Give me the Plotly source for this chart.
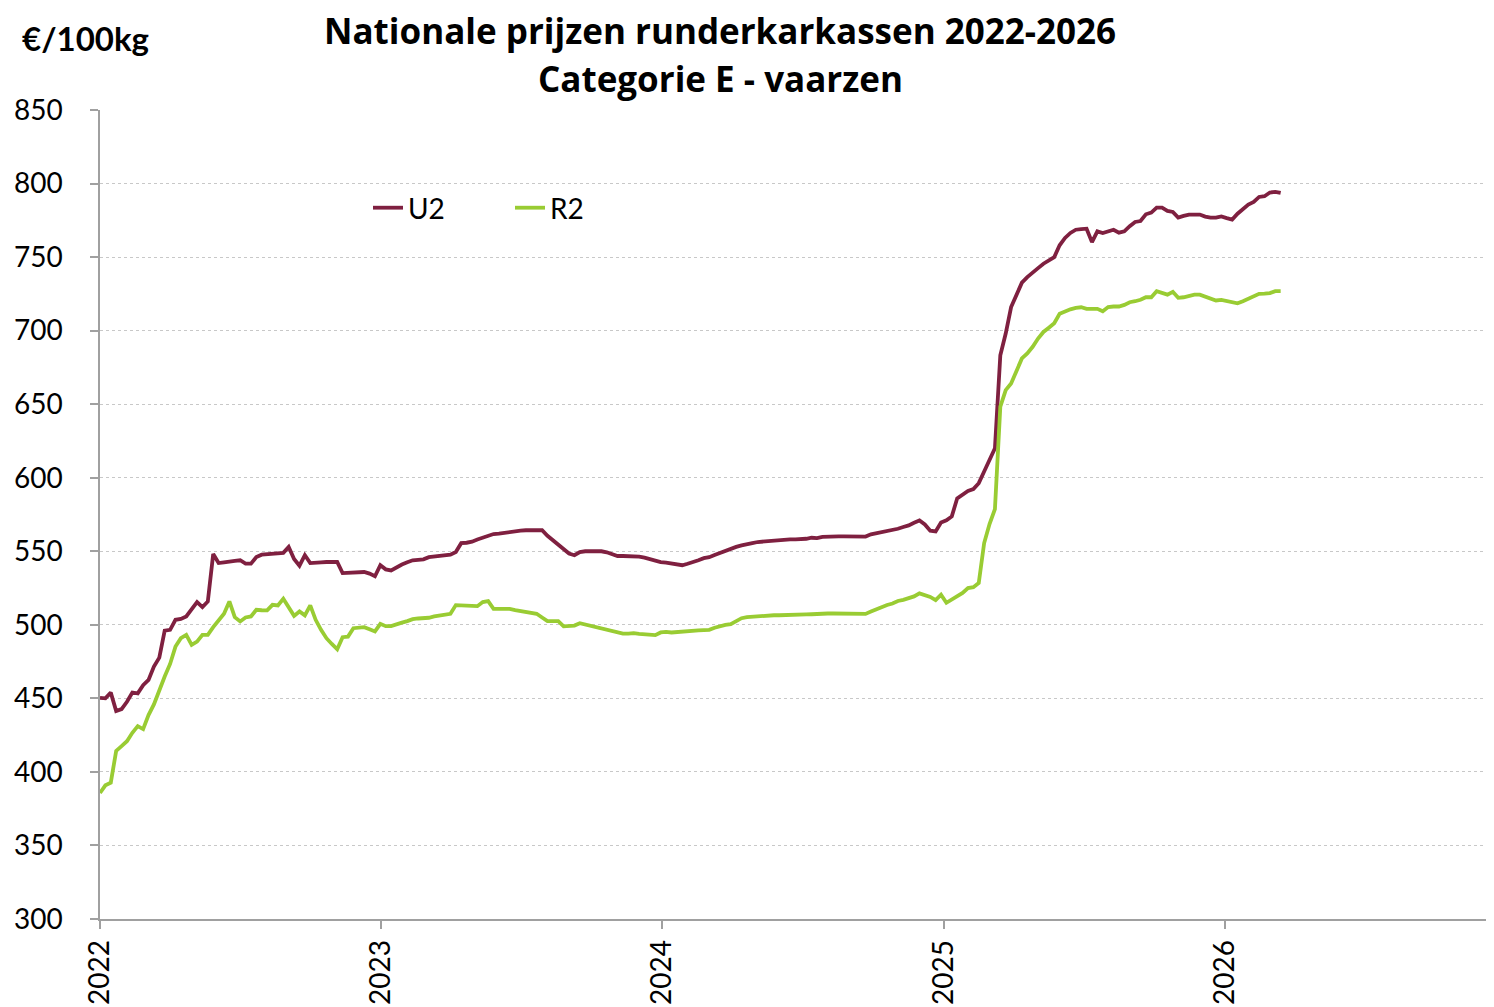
import plotly.graph_objects as go
import pandas as pd

start_date = "2022-01-01"
u2 = [
    450.4, 450, 453.9, 441.4, 442.7, 447.7, 454, 453.4, 459, 462.5,
    471.6, 477.7, 496, 496.6, 503.4, 504, 505.7, 510.2, 515.5, 512,
    515.9, 548.2, 542, 542.5, 542.7, 543.5, 543.9, 541.6, 541.6, 546.1,
    547.7, 548, 548.5, 548.9, 548.9, 553, 544.8, 540.2, 547.3, 542,
    542, 542.5, 542.7, 542.7, 542.7, 535.2, 535.5, 535.7, 535.8, 535.9,
    534.8, 533, 540.5, 537.7, 537, 539.3, 541, 542.5, 543.9, 544.2,
    544.5, 546, 546.4, 546.8, 547.2, 547.7, 549.5, 555.5, 555.8, 556.5,
    558, 559.2, 560.8, 561.7, 562, 562.5, 563.5, 563.9, 564, 564.3,
    564.2, 564.1, 564.3, 560.5, 557.5, 555, 552, 548.5, 547.3, 549.5,
    550, 550, 550, 550, 549.3, 548, 546.8, 546.8, 546.8, 546.7,
    546.3, 545.7, 544.5, 543.2, 542.6, 542.3, 541.8, 541.2, 540.5, 541.5,
    543, 543.9, 545.3, 546, 547.5, 548.9, 550.5, 552, 553, 554,
    554.5, 555.5, 556.3, 556.7, 557, 557.5, 557.9, 558, 558.1, 558.1,
    558.1, 558.5, 559.2, 559, 559.8, 560.1, 560.1, 560.1, 560.1, 560.1,
    560.1, 559.5, 560, 561.5, 562.2, 562.6, 563.5, 564.5, 565.3, 566.5,
    567.6, 569.4, 570.9, 568.2, 564, 563.5, 569.5, 571, 573.7, 586,
    588.4, 591, 592.3, 596.3, 604.2, 612.1, 620, 683.3, 698, 716,
    725, 732.6, 736.4, 739.8, 742.5, 745.5, 747.7, 750, 758, 763,
    766.4, 768.6, 769, 769.3, 760.2, 767.5, 766.4, 767.5, 768.6, 766.6,
    767.5, 771, 773.9, 774.5, 779.1, 780.2, 783.6, 783.6, 781.4, 780.7,
    776.8, 778, 778.9, 778.9, 778.9, 777.5, 776.8, 776.8, 777.7, 776.5,
    775.5, 779.5, 783, 785.7, 787.5, 790.9, 791.4, 793.9, 794.3, 793.6,
]
r2 = [
    385.7, 390.9, 392.7, 414.3, 417.5, 420.9, 426.6, 431.1, 429.1, 438.6,
    445.9, 456.1, 464.8, 473.4, 485.2, 490.9, 493.2, 486.4, 488.6, 493.2,
    493.2, 498.4, 503.4, 507.5, 515.9, 505.2, 502.3, 505, 505.7, 510.2,
    509.9, 509.8, 513.6, 513.2, 517.7, 512, 506.1, 509.1, 506.4, 513.2,
    503.4, 496.6, 490.9, 487, 483.4, 491.6, 492, 497.7, 498, 498.4,
    497, 495.5, 500.7, 499.1, 499.1, 500, 501.5, 502.5, 503.8, 504.3,
    504.5, 504.8, 505.7, 506.2, 506.8, 507.5, 513.4, 513.2, 512.5, 512.6,
    512.7, 515.5, 516.1, 510.9, 510.9, 510.9, 510.9, 510, 509.5, 508.5,
    508, 507.5, 505, 502.5, 502.5, 502.5, 499, 499, 499.5, 501.1,
    500.2, 499, 498.3, 497.5, 496.5, 495.3, 494.6, 494, 494, 494.3,
    493.8, 493.4, 493.5, 493, 494.8, 495.2, 494.8, 495.2, 495.5, 495.7,
    496, 496.2, 496.4, 496.6, 498, 499.3, 500, 500.5, 502.5, 504.5,
    505.2, 505.5, 505.8, 506.3, 506.5, 506.5, 506.5, 506.5, 506.7, 507,
    507.1, 507.1, 507.2, 507.5, 507.7, 507.7, 507.7, 507.7, 507.6, 507.6,
    507.5, 507.5, 507.4, 509, 510.6, 512.5, 513.5, 514.5, 516.2, 517,
    518, 519.3, 521.4, 520, 519, 516.8, 520.5, 515, 517.2, 519,
    521.7, 525, 525.6, 528.5, 555.6, 568.5, 578.7, 648.3, 659.6, 664.1,
    672, 681.1, 684.5, 689, 694.6, 699.1, 702, 705, 711.4, 713,
    714.5, 715.5, 715.9, 714.8, 714.8, 714.8, 713.2, 716, 716.4, 716.4,
    717.5, 719.3, 720, 721, 722.7, 722.7, 726.8, 725.5, 724.5, 726.4,
    722.3, 722.7, 723.5, 724.5, 724.5, 723, 721.5, 720.5, 720.9, 720,
    719, 718.6, 720, 721.5, 723, 725, 725.2, 725.5, 726.8, 726.8,
]
tick_dates = ["2022-01-01", "2023-01-01", "2024-01-01", "2025-01-01", "2026-01-01"]
tick_labels = ["2022", "2023", "2024", "2025", "2026"]
y_ticks = list(range(300, 851, 50))

dates = pd.date_range(start_date, periods=len(u2), freq="7D")

FONT = "Lato"
# page has an 8px body margin; figure is sized so the plot area lands at
# page x 100..1494, y 110..919
W, H = 1486, 999
ML, MT, MB = 92, 102, 88
pw, ph = W - ML, H - MT - MB

fig = go.Figure()
fig.add_trace(go.Scatter(x=dates, y=u2, mode="lines", name="U2",
                         line=dict(color="#7F2040", width=3.8)))
fig.add_trace(go.Scatter(x=dates, y=r2, mode="lines", name="R2",
                         line=dict(color="#99CC33", width=3.8)))


def px(x):
    return (x - 100) / pw


def py(y):
    return (919 - y) / ph


fig.update_layout(
    width=W, height=H,
    margin=dict(l=ML, r=0, t=MT, b=MB, pad=0),
    paper_bgcolor="white", plot_bgcolor="white",
    font=dict(family=FONT, size=28, color="black"),
    showlegend=True,
    legend=dict(orientation="h", x=px(368), y=py(208), xanchor="left", yanchor="middle",
                font=dict(size=28), bgcolor="rgba(0,0,0,0)", entrywidth=97,
                entrywidthmode="pixels"),
    xaxis=dict(
        type="date", range=["2022-01-01", "2026-12-16"],
        tickvals=tick_dates, ticktext=tick_labels, tickangle=-90,
        ticks="outside", ticklen=8, tickcolor="#A0A0A0", tickwidth=1.5,
        showline=True, linecolor="#A0A0A0", linewidth=1.5,
        showgrid=False, zeroline=False, tickfont=dict(size=28),
    ),
    yaxis=dict(
        range=[300, 850], tickvals=y_ticks,
        ticks="outside", ticklen=8, tickcolor="#A0A0A0", tickwidth=1.5,
        showline=True, linecolor="#A0A0A0", linewidth=1.5,
        showgrid=True, gridcolor="#C8C8C8", gridwidth=1, griddash="dot",
        zeroline=False, tickfont=dict(size=28), ticklabelstandoff=22,
    ),
    annotations=[
        dict(text="<b>Nationale prijzen runderkarkassen 2022-2026</b>", x=px(720), y=py(31),
             xref="paper", yref="paper", showarrow=False, xanchor="center",
             yanchor="middle", font=dict(size=35, family="Open Sans")),
        dict(text="<b>Categorie E - vaarzen</b>", x=px(720), y=py(78),
             xref="paper", yref="paper", showarrow=False, xanchor="center",
             yanchor="middle", font=dict(size=35, family="Open Sans")),
        dict(text="<b>€/100kg</b>", x=px(20), y=py(38), xref="paper", yref="paper",
             showarrow=False, xanchor="left", yanchor="middle", font=dict(size=33)),
    ],
)

fig.write_html("out.html")
